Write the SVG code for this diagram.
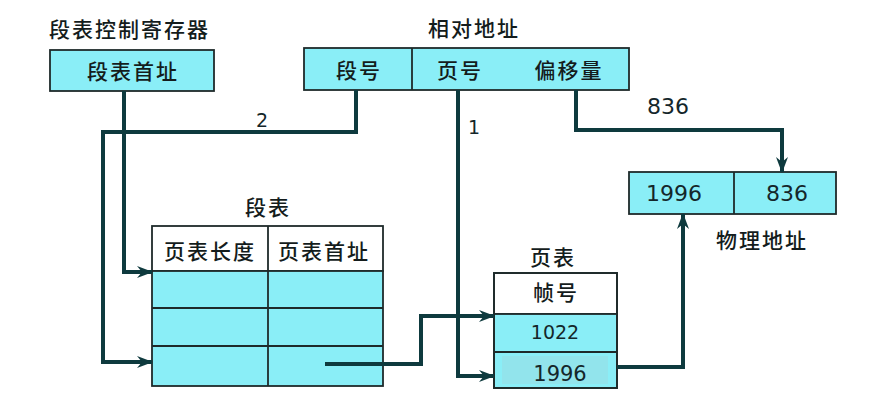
<svg xmlns="http://www.w3.org/2000/svg" width="875" height="411" viewBox="0 0 875 411">
<style>
.cjk{font-family:"Noto Sans CJK SC","Noto Sans",sans-serif;font-size:21px;font-weight:500;fill:#141c1c;letter-spacing:2px}
.num{font-family:"DejaVu Sans",sans-serif;fill:#14262a}
.box{fill:#8aeef7;stroke:#1e2a2a;stroke-width:1.8}
.hdr{fill:#ffffff;stroke:#1e2a2a;stroke-width:1.8}
.ln{stroke:#1e2a2a;stroke-width:1.8;fill:none}
.conn{stroke:#0e3a3e;stroke-width:4;fill:none;stroke-linejoin:miter}
.mid{text-anchor:middle}
</style>
<defs>
<marker id="ah" viewBox="0 0 16 12" refX="15" refY="6" markerWidth="16" markerHeight="12" markerUnits="userSpaceOnUse" orient="auto">
<path d="M0,0 L16,6 L0,12 L5,6 z" fill="#0e3a3e"/>
</marker>
</defs>
<rect width="875" height="411" fill="#ffffff"/>

<g id="segreg">
<text class="cjk" x="49" y="37">段表控制寄存器</text>
<rect class="box" x="50" y="50" width="164" height="41"/>
<text class="cjk mid" x="133" y="79">段表首址</text>
</g>

<g id="reladdr">
<text class="cjk mid" x="474" y="36">相对地址</text>
<rect class="box" x="304" y="48" width="325" height="42"/>
<line class="ln" x1="412" y1="48" x2="412" y2="90"/>
<text class="cjk mid" x="359" y="78">段号</text>
<text class="cjk mid" x="460" y="78">页号</text>
<text class="cjk mid" x="569" y="78">偏移量</text>
</g>

<g id="physaddr">
<rect class="box" x="629" y="172" width="207" height="42"/>
<line class="ln" x1="734" y1="172" x2="734" y2="214"/>
<text class="num mid" x="674" y="201" font-size="22">1996</text>
<text class="num mid" x="787" y="201" font-size="22">836</text>
<text class="cjk mid" x="762" y="248">物理地址</text>
</g>

<g id="segtable">
<text class="cjk mid" x="268" y="215">段表</text>
<rect class="hdr" x="152" y="226" width="231" height="45"/>
<rect class="box" x="152" y="271" width="231" height="115"/>
<line class="ln" x1="268" y1="226" x2="268" y2="386"/>
<line class="ln" x1="152" y1="308" x2="383" y2="308"/>
<line class="ln" x1="152" y1="346" x2="383" y2="346"/>
<text class="cjk mid" x="210" y="259">页表长度</text>
<text class="cjk mid" x="324" y="259">页表首址</text>
</g>

<g id="pagetable">
<text class="cjk mid" x="553" y="265">页表</text>
<rect class="hdr" x="494" y="273" width="123" height="41"/>
<rect class="box" x="494" y="314" width="123" height="74"/>
<rect x="502" y="356" width="106" height="28" fill="#92e4ec"/>
<line class="ln" x1="494" y1="352" x2="617" y2="352"/>
<rect x="494" y="273" width="123" height="115" fill="none" stroke="#1e2a2a" stroke-width="1.8"/>
<text class="cjk mid" x="556" y="300">帧号</text>
<text class="num mid" x="555" y="339" font-size="19">1022</text>
<text class="num mid" x="560" y="381" font-size="21">1996</text>
</g>

<g id="connectors">
<polyline class="conn" points="124,91 124,272 152,272" marker-end="url(#ah)"/>
<polyline class="conn" points="356,90 356,132 103,132 103,362 152,362" marker-end="url(#ah)"/>
<polyline class="conn" points="325,364 421,364 421,316 494,316" marker-end="url(#ah)"/>
<polyline class="conn" points="458,90 458,376 494,376" marker-end="url(#ah)"/>
<polyline class="conn" points="576,90 576,130 782,130 782,172" marker-end="url(#ah)"/>
<polyline class="conn" points="617,367 683,367 683,214" marker-end="url(#ah)"/>
<text class="num mid" x="262" y="127" font-size="19">2</text>
<text class="num mid" x="474" y="134" font-size="19">1</text>
<text class="num mid" x="668" y="114" font-size="22">836</text>
</g>
</svg>
